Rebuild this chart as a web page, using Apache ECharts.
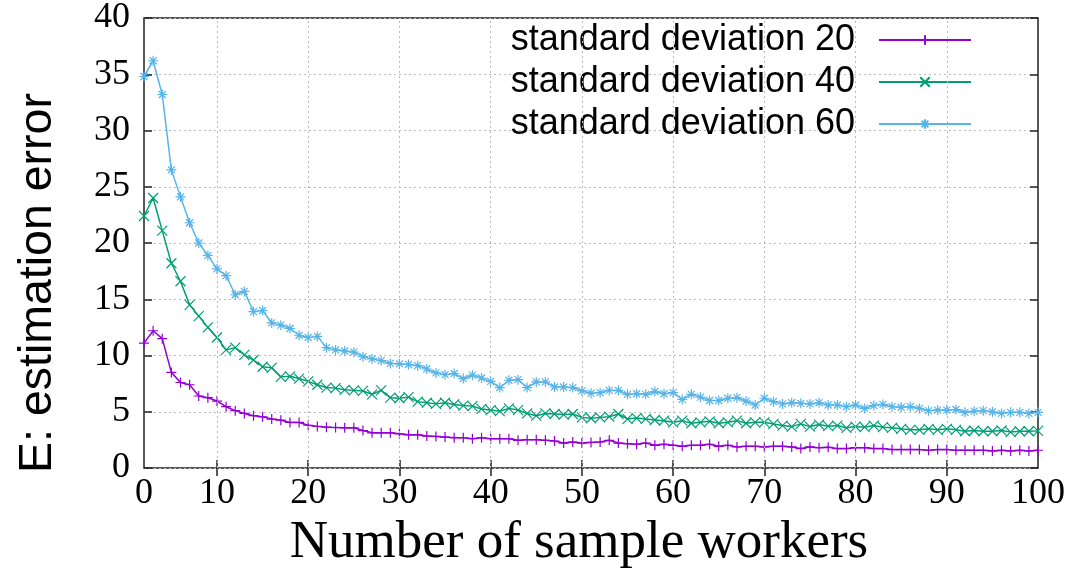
<!DOCTYPE html>
<html>
<head>
<meta charset="utf-8">
<script src="https://cdn.jsdelivr.net/npm/echarts@6/dist/echarts.min.js"></script>
<style>
html,body{margin:0;padding:0;background:#fff;}
#chart{width:1068px;height:577px;}
</style>
</head>
<body>
<div id="chart"></div>
<script>
// Number of sample workers: 2..100
const workers = [2,3,4,5,6,7,8,9,10,11,12,13,14,15,16,17,18,19,20,21,22,23,24,25,26,27,28,29,30,31,32,33,34,35,36,37,38,39,40,41,42,43,44,45,46,47,48,49,50,51,52,53,54,55,56,57,58,59,60,61,62,63,64,65,66,67,68,69,70,71,72,73,74,75,76,77,78,79,80,81,82,83,84,85,86,87,88,89,90,91,92,93,94,95,96,97,98,99,100];

const sd20 = [11.1,12.2,11.5,8.5,7.6,7.4,6.4,6.25,5.95,5.45,5.1,4.85,4.65,4.55,4.35,4.25,4.05,4.05,3.8,3.7,3.63,3.6,3.57,3.57,3.33,3.13,3.13,3.13,3.04,2.95,2.95,2.84,2.81,2.75,2.69,2.69,2.6,2.69,2.6,2.6,2.6,2.46,2.52,2.52,2.46,2.4,2.22,2.31,2.22,2.27,2.31,2.46,2.22,2.16,2.11,2.22,2.02,2.11,2.02,1.93,2.02,2.02,2.11,1.93,2.02,1.87,1.93,1.93,1.87,1.93,1.93,1.87,1.73,1.87,1.81,1.84,1.73,1.73,1.81,1.81,1.73,1.73,1.64,1.64,1.64,1.64,1.58,1.64,1.64,1.58,1.58,1.58,1.58,1.52,1.58,1.52,1.58,1.52,1.58];

const sd40 = [22.4,24.0,21.1,18.2,16.6,14.5,13.5,12.5,11.6,10.5,10.7,10.05,9.6,9.0,8.9,8.1,8.15,7.95,7.7,7.4,7.15,7.1,6.95,6.9,6.85,6.55,6.9,6.25,6.2,6.3,5.9,5.8,5.7,5.8,5.65,5.55,5.5,5.25,5.15,5.05,5.3,5.15,4.85,4.65,4.85,4.8,4.75,4.8,4.5,4.42,4.5,4.56,4.8,4.36,4.44,4.36,4.27,4.21,4.06,4.21,3.98,4.06,4.15,3.98,4.06,4.21,3.98,4.06,4.06,3.92,3.77,3.68,3.92,3.68,3.86,3.72,3.77,3.57,3.68,3.63,3.77,3.63,3.57,3.48,3.39,3.39,3.48,3.39,3.48,3.39,3.27,3.33,3.27,3.27,3.33,3.19,3.27,3.27,3.3];

const sd60 = [34.8,36.2,33.2,26.5,24.1,21.8,20.0,18.9,17.7,17.1,15.4,15.7,13.9,14.0,12.9,12.7,12.4,11.8,11.6,11.7,10.7,10.5,10.4,10.3,9.9,9.7,9.55,9.3,9.25,9.2,9.1,8.8,8.45,8.3,8.4,7.95,8.25,8.0,7.7,7.15,7.8,7.85,7.15,7.65,7.65,7.2,7.2,7.15,6.85,6.65,6.7,6.9,6.9,6.55,6.6,6.55,6.8,6.6,6.7,6.1,6.55,6.3,6.0,6.0,6.2,6.25,5.95,5.6,6.2,5.9,5.7,5.8,5.75,5.7,5.8,5.6,5.6,5.45,5.6,5.3,5.55,5.65,5.45,5.4,5.45,5.3,5.1,5.15,5.15,5.2,4.95,5.05,5.1,5.0,4.85,4.95,4.95,4.85,4.95];

const seriesNames = ['standard deviation 20','standard deviation 40','standard deviation 60'];
const xLabelValues = [2,10,20,30,40,50,60,70,80,90,100];
const xLabelTexts = ['0','10','20','30','40','50','60','70','80','90','100'];
const xTickValues = [10,20,30,40,50,60,70,80,90];

const colors = ['#9400d3','#009e73','#56b4e9'];
const symbols = [
  'path://M5,0L5,10M0,5L10,5',
  'path://M0,0L10,10M10,0L0,10',
  'path://M5,0L5,10M0,5L10,5M1.5,1.5L8.5,8.5M8.5,1.5L1.5,8.5'
];

function pairs(ys){ return workers.map((x,i)=>[x, ys[i]]); }
const allData = [sd20, sd40, sd60];

const chart = echarts.init(document.getElementById('chart'), null, {renderer:'canvas'});
const serif = '"Liberation Serif", "Times New Roman", serif';
const sans = '"Liberation Sans", Arial, sans-serif';
const gridLine = {color:'#bbb', type:[2,3], width:1};

const lineSeries = seriesNames.map((name,i)=>({
  name:name, type:'line', xAxisIndex:0, yAxisIndex:0,
  data: pairs(allData[i]),
  showSymbol:true, showAllSymbol:true,
  symbol: symbols[i], symbolSize: 10,
  color: colors[i],
  lineStyle:{color:colors[i], width:1.5},
  itemStyle:{color:colors[i], borderColor:colors[i], borderWidth:1.2},
  z: 3+i
}));

const gridSeries = {
  name:'vgrid', type:'line', data:[], silent:true, z:1,
  markLine:{
    silent:true, symbol:['none','none'], label:{show:false},
    lineStyle:gridLine, animation:false,
    data: xTickValues.map(v=>({xAxis:v}))
  }
};

const option = {
  animation: false,
  backgroundColor: '#fff',
  grid: {left:144, right:29, top:12, bottom:109, show:true, borderColor:'#222', borderWidth:1.5, backgroundColor:'transparent'},
  legend: {
    orient:'vertical', right:91, top:17, align:'right',
    itemWidth:92, itemHeight:12, itemGap:6,
    textStyle:{fontFamily:sans, fontSize:36, color:'#000', padding:[0,19,0,0]},
    data: seriesNames
  },
  xAxis: [{
    type:'value', min:2, max:100,
    axisLine:{show:false},
    axisTick:{show:true, inside:true, length:8, customValues:xTickValues, lineStyle:{color:'#222', width:1.5}},
    axisLabel:{customValues:xLabelValues, margin:8, fontFamily:serif, fontSize:36, color:'#000',
      formatter:function(v){ const i = xLabelValues.indexOf(v); return i>=0 ? xLabelTexts[i] : ''; }},
    splitLine:{show:false},
    name:'Number of sample workers', nameLocation:'middle', nameGap:46,
    nameTextStyle:{fontFamily:serif, fontSize:53, color:'#000', padding:[0,24,0,0]}
  },{
    type:'value', min:2, max:100, position:'top',
    axisLine:{show:false},
    axisTick:{show:true, inside:true, length:8, customValues:xTickValues, lineStyle:{color:'#222', width:1.5}},
    axisLabel:{show:false}, splitLine:{show:false}
  }],
  yAxis: [{
    type:'value', min:0, max:40, interval:5,
    axisLine:{show:false},
    axisTick:{show:true, inside:true, length:8, lineStyle:{color:'#222', width:1.5}},
    axisLabel:{margin:14, fontFamily:serif, fontSize:36, color:'#000'},
    splitLine:{show:true, lineStyle:gridLine},
    name:'E: estimation error', nameLocation:'middle', nameGap:82, nameRotate:90,
    nameTextStyle:{fontFamily:sans, fontSize:46.5, color:'#000', padding:[0,80,0,0]}
  },{
    type:'value', min:0, max:40, interval:5, position:'right',
    axisLine:{show:false},
    axisTick:{show:true, inside:true, length:8, lineStyle:{color:'#222', width:1.5}},
    axisLabel:{show:false}, splitLine:{show:false}
  }],
  series: [gridSeries].concat(lineSeries)
};
chart.setOption(option);
</script>
</body>
</html>
